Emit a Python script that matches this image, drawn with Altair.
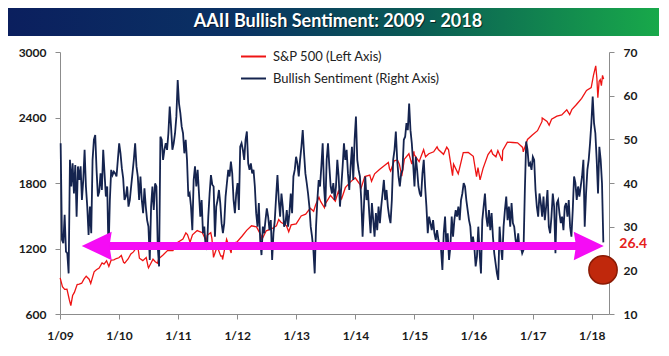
import altair as alt
import pandas as pd

# ---------------- data ----------------
title_text = "AAII Bullish Sentiment: 2009 - 2018"
series_names = ["S&P 500 (Left Axis)", "Bullish Sentiment (Right Axis)"]
series_colors = ["#ee1414", "#15244f"]

left_ticks = [600, 1200, 1800, 2400, 3000]
right_ticks = [10, 20, 30, 40, 50, 60, 70]
tick_years = [2009, 2010, 2011, 2012, 2013, 2014, 2015, 2016, 2017, 2018]

sp_dates = [
    "2009-01-02", "2009-01-16", "2009-01-30", "2009-02-13", "2009-02-27", "2009-03-09", "2009-03-20",
    "2009-03-31", "2009-04-17", "2009-04-30", "2009-05-15", "2009-05-29", "2009-06-12", "2009-06-30",
    "2009-07-10", "2009-07-31", "2009-08-14", "2009-08-31", "2009-09-18", "2009-09-30", "2009-10-16",
    "2009-10-30", "2009-11-13", "2009-11-30", "2009-12-15", "2009-12-31",
    "2010-01-15", "2010-01-29", "2010-02-05", "2010-02-26", "2010-03-15", "2010-03-31", "2010-04-23",
    "2010-04-30", "2010-05-07", "2010-05-28", "2010-06-18", "2010-06-30", "2010-07-02", "2010-07-30",
    "2010-08-13", "2010-08-27", "2010-09-03", "2010-09-30", "2010-10-29", "2010-11-30", "2010-12-31",
    "2011-01-31", "2011-02-18", "2011-02-28", "2011-03-16", "2011-03-31", "2011-04-29", "2011-05-31",
    "2011-06-24", "2011-06-30", "2011-07-22", "2011-07-29", "2011-08-08", "2011-08-31", "2011-09-22",
    "2011-09-30", "2011-10-03", "2011-10-28", "2011-11-25", "2011-11-30", "2011-12-30",
    "2012-01-31", "2012-02-29", "2012-03-30", "2012-04-30", "2012-05-31", "2012-06-01", "2012-06-29",
    "2012-07-31", "2012-08-31", "2012-09-14", "2012-09-28", "2012-10-31", "2012-11-15", "2012-11-30",
    "2012-12-31",
    "2013-01-31", "2013-02-28", "2013-03-28", "2013-04-18", "2013-04-30", "2013-05-21", "2013-05-31",
    "2013-06-24", "2013-06-28", "2013-07-31", "2013-08-30", "2013-09-18", "2013-09-30", "2013-10-08",
    "2013-10-31", "2013-11-29", "2013-12-31",
    "2014-01-31", "2014-02-03", "2014-02-28", "2014-03-31", "2014-04-11", "2014-04-30", "2014-05-30",
    "2014-06-30", "2014-07-24", "2014-07-31", "2014-08-07", "2014-08-29", "2014-09-18", "2014-09-30",
    "2014-10-15", "2014-10-31", "2014-11-28", "2014-12-16", "2014-12-29", "2014-12-31",
    "2015-01-30", "2015-02-27", "2015-03-11", "2015-03-31", "2015-04-30", "2015-05-21", "2015-05-29",
    "2015-06-30", "2015-07-20", "2015-07-31", "2015-08-25", "2015-08-31", "2015-09-29", "2015-10-30",
    "2015-11-30", "2015-12-31",
    "2016-01-20", "2016-01-29", "2016-02-11", "2016-02-29", "2016-03-31", "2016-04-20", "2016-04-29",
    "2016-05-19", "2016-05-31", "2016-06-27", "2016-06-30", "2016-07-29", "2016-08-31", "2016-09-30",
    "2016-10-31", "2016-11-04", "2016-11-30", "2016-12-30",
    "2017-01-31", "2017-02-28", "2017-03-01", "2017-03-31", "2017-04-13", "2017-04-28", "2017-05-31",
    "2017-06-30", "2017-07-31", "2017-08-18", "2017-08-31", "2017-09-29", "2017-10-31", "2017-11-30",
    "2017-12-29",
    "2018-01-12", "2018-01-26", "2018-02-02", "2018-02-08", "2018-02-16", "2018-02-23", "2018-03-02",
    "2018-03-09", "2018-03-16",
]
sp_values = [
    931, 850, 826, 827, 735, 677, 769,
    798, 870, 873, 882, 919, 946, 919,
    879, 987, 1005, 1021, 1068, 1057, 1087,
    1036, 1093, 1096, 1108, 1115,
    1136, 1074, 1066, 1104, 1150, 1169, 1217,
    1187, 1111, 1089, 1117, 1031, 1022, 1102,
    1079, 1065, 1105, 1141, 1183, 1181, 1258,
    1286, 1343, 1327, 1257, 1326, 1364, 1345,
    1268, 1321, 1345, 1292, 1119, 1219, 1130,
    1131, 1099, 1285, 1159, 1247, 1258,
    1312, 1366, 1408, 1398, 1310, 1278, 1362,
    1379, 1407, 1466, 1441, 1412, 1353, 1416,
    1426,
    1498, 1515, 1569, 1541, 1598, 1669, 1631,
    1573, 1606, 1686, 1633, 1725, 1682, 1656,
    1757, 1806, 1848,
    1783, 1742, 1859, 1872, 1815, 1884, 1924,
    1960, 1988, 1931, 1910, 2003, 2011, 1972,
    1862, 2018, 2068, 1973, 2090, 2059,
    1995, 2105, 2040, 2068, 2086, 2131, 2107,
    2063, 2128, 2104, 1867, 1972, 1884, 2079,
    2080, 2044,
    1859, 1940, 1829, 1932, 2060, 2102, 2065,
    2040, 2097, 2001, 2099, 2174, 2171, 2168,
    2126, 2085, 2199, 2239,
    2279, 2364, 2396, 2363, 2329, 2384, 2412,
    2423, 2470, 2426, 2472, 2519, 2575, 2648,
    2674,
    2786, 2873, 2762, 2581, 2732, 2747, 2691,
    2786, 2752,
]

# weekly bullish sentiment (%), evenly spaced in time
bull_start = "2009-01-05"
bull_end = "2018-03-14"
bull_values = [
    49.1, 27, 26.2, 32.7, 24.3, 23.9, 19.3, 45.3, 39.2, 44.5,
    37.6, 44.1, 32.3, 43.8, 40.7, 43.8, 36.1, 40.7, 47.6, 39.2,
    34.6, 28.1, 34.6, 28.5, 45.3, 49.9, 51, 43, 36.9, 38,
    42.2, 38.4, 47.6, 42.2, 36.9, 39.2, 23.9, 36.1, 43, 41.8,
    42.6, 42.2, 41.5, 45.3, 49.1, 46.8, 43.4, 41.1, 36.1, 36.9,
    39.2, 34.6, 36.1, 39.2, 42.2, 45.3, 49.1, 43.8, 41.5, 36.1,
    41.5, 36.1, 33.1, 38.8, 34.6, 31.5, 30, 22.4, 34.6, 39.2,
    33.8, 39.9, 39.2, 25.4, 20.9, 50.6, 49.9, 45.3, 47.6, 49.1,
    47.6, 51.4, 57.5, 52.9, 47.6, 49.1, 51.4, 55.2, 63.6, 58.2,
    56, 52.9, 51.4, 46.8, 49.9, 45.3, 36.9, 37.6, 34.6, 29.2,
    40.7, 43.8, 39.2,
    43, 37.6, 32.3, 36.1, 28.5, 30, 25.4, 24.7, 32.3, 37.6,
    41.8, 39.6, 39.2, 27.7, 34.6, 36.1, 38.4, 35.4, 30.8, 28.5,
    30.8, 36.9, 40, 43, 41.5, 44.9, 42.2, 36.1, 33.1, 37.6,
    40, 33.8, 48.3, 49.1, 47.6, 45.3, 49.9, 51.8, 44.5, 43,
    44.5, 42.2, 43, 39.2, 33.1, 30, 35.4, 27, 23.5, 30,
    28.5, 31.5, 34.2, 32.3, 29.2, 31.5, 22.4, 28.5, 31.5, 36.9,
    41.8, 36.1, 32.3, 37.6, 34.6, 30, 30.8, 33.8, 30, 33.1,
    37.6, 33.1, 41.5, 43, 46, 44.5, 41.5, 45.3, 48.3, 52.1,
    46.8, 42.2, 40, 37.6, 34.6, 30, 27.7, 24.7, 19.3, 30,
    36.1, 40.7, 39.2, 43.8, 49.1, 39.2, 34.6, 45.3, 49.1, 43.8,
    39.2, 37.6, 40, 36.1, 39.2,
    45.3, 41.5, 34.6, 39.2, 43.8, 49.1, 45.3, 47.6, 42.2, 38.4,
    43.8, 48.3, 40.7, 49.9, 55.2, 45.3, 43, 41.5, 36.1, 27.7,
    34.6, 41.5, 36.1, 38.4, 33.1, 28.5, 35.4, 31.5, 27.7, 33.1,
    29.2, 34.6, 30.8, 34.6, 37.6, 40.7, 36.1, 38.4, 34.6, 32.3,
    30.8, 36.1, 45.3, 47.6, 51.8, 45.3, 41.5, 39.2, 42.2, 43,
    49.9, 50.6, 53.7, 52.1, 58.2, 52.1, 49.1, 44.5, 39.2, 46,
    43, 39.2, 37.6, 36.9, 42.2, 45.3, 39.2, 34.6, 28.5, 32.3,
    30.8, 29.2, 31.5, 28.5, 27, 29.2, 27, 25.4, 24.7, 20.1,
    28.5, 32.3, 25.4, 28.5, 22.4, 25.4, 32.3, 27.7, 31.5, 33.8,
    32.3, 34.6, 31.5, 36.1, 37.6, 40, 39.2, 36.1, 33.8, 31.5,
    30, 25.4,
    27.7, 25.4, 20.9, 23.2, 30, 23.9, 19.3, 31.5, 34.6, 37.6,
    32.3, 30, 33.8, 29.2, 33.1, 27.7, 23.9, 21.6, 19.3, 17.8,
    30, 25.4, 22.4, 30, 33.8, 36.9, 31.5, 34.6, 30, 35.4,
    30.8, 30, 27, 25.4, 28.5, 24.7, 25.4, 23.9, 24.7, 38.4,
    49.5, 47.6, 43.8, 44.5, 43, 46, 45.3, 38.4, 34.6, 32.3,
    37.6, 35.4, 32.3, 36.9, 31.5, 34.6, 38.4, 30, 28.5, 32.3,
    37.6, 34.6, 23.9, 35.4, 36.1, 33.1, 30.8, 32.3, 29.2, 34.6,
    35.4, 32.3, 36.1, 30, 27.7, 33.8, 41.5, 40, 36.1, 39.2,
    36.9, 39.2, 41.5, 45.3, 30, 37.6, 43, 45.3, 49.1, 53.7,
    59.8, 53.7, 51.4, 45.3, 37.6, 48.3, 45.3, 39.9, 26.4,
]

# annotations
latest_label = "26.4"
arrow_level = 25.6
arrow_left = "2009-08-16"
arrow_right = "2017-12-14"
circle_date = "2018-03-12"
circle_level = 20.1

x_domain = [alt.DateTime(year=2009, month=1, date=1), alt.DateTime(year=2018, month=4, date=18)]

# ---------------- tables ----------------
sp_df = pd.DataFrame({"date": pd.to_datetime(sp_dates), "sp": sp_values, "series": series_names[0]})
bull_df = pd.DataFrame({
    "date": pd.date_range(bull_start, bull_end, periods=len(bull_values)),
    "v": bull_values,
    "series": series_names[1],
})
last_df = bull_df.tail(1).assign(label=latest_label)
shaft_df = pd.DataFrame({"date": pd.to_datetime([arrow_left]), "date2": pd.to_datetime([arrow_right]), "v": [arrow_level]})
lhead_df = pd.DataFrame({"date": pd.to_datetime([arrow_left]), "v": [arrow_level]})
rhead_df = pd.DataFrame({"date": pd.to_datetime([arrow_right]), "v": [arrow_level]})
circ_df = pd.DataFrame({"date": pd.to_datetime([circle_date]), "v": [circle_level]})
title_df = pd.DataFrame({"t": [title_text]})

AXIS_GRAY = "#8c8c8c"
FONT = "Lato"

x_enc = alt.X(
    "date:T",
    scale=alt.Scale(domain=x_domain),
    axis=alt.Axis(
        values=[alt.DateTime(year=y, month=1, date=1) for y in tick_years],
        format="%-m/%y", title=None, grid=False, labelPadding=11,
        labelFlush=False, labelOverlap=False,
    ),
)
left_y = alt.Y(
    "sp:Q",
    scale=alt.Scale(domain=[left_ticks[0], left_ticks[-1]], nice=False, zero=False),
    axis=alt.Axis(values=left_ticks, format="d", orient="left", title=None, grid=False, labelPadding=9),
)
right_scale = alt.Scale(domain=[right_ticks[0], right_ticks[-1]], nice=False, zero=False)
right_axis = alt.Axis(values=right_ticks, format="d", orient="right", title=None, grid=False, labelPadding=9)
right_y = alt.Y("v:Q", scale=right_scale, axis=right_axis)

color_enc = alt.Color(
    "series:N",
    scale=alt.Scale(domain=series_names, range=series_colors),
    legend=alt.Legend(
        orient="none", legendX=180, legendY=-9, title=None, direction="vertical",
        symbolType="stroke", symbolSize=625, symbolStrokeWidth=2,
        labelFont=FONT, labelFontSize=13, labelColor="#222222", labelOffset=6,
        rowPadding=1, padding=0, labelLimit=300,
    ),
)

sp_line = alt.Chart(sp_df).mark_line(strokeWidth=1.3).encode(x=x_enc, y=left_y, color=color_enc)

bull_line = alt.Chart(bull_df).mark_line(strokeWidth=1.8).encode(x=x_enc, y=right_y, color=color_enc)

MAGENTA = "#f50cf5"
shaft = alt.Chart(shaft_df).mark_rule(strokeWidth=8, color=MAGENTA).encode(x=x_enc, x2="date2:T", y=right_y)
lhead = alt.Chart(lhead_df).mark_point(
    shape="M -1 0 L 1 -0.95 L 0.85 0 L 1 0.95 Z", size=900, filled=True, color=MAGENTA, opacity=1, strokeWidth=0
).encode(x=x_enc, y=right_y)
rhead = alt.Chart(rhead_df).mark_point(
    shape="M 1 0 L -1 -0.95 L -0.85 0 L -1 0.95 Z", size=900, filled=True, color=MAGENTA, opacity=1, strokeWidth=0
).encode(x=x_enc, y=right_y)
circle = alt.Chart(circ_df).mark_point(
    shape="circle", size=800, filled=True, color="#c0280c", stroke="#8a1a04", strokeWidth=1.5, opacity=1
).encode(x=x_enc, y=right_y)
label = alt.Chart(last_df).mark_text(
    align="left", baseline="middle", dx=16, dy=2, font=FONT, fontSize=14, fontWeight="bold", color="#e5201a"
).encode(x=x_enc, y=right_y, text="label:N")

right_layer = alt.layer(bull_line, shaft, lhead, rhead, circle, label)

title_bar = alt.Chart(title_df).mark_rect(
    fill=alt.LinearGradient(
        gradient="linear", x1=0, x2=1, y1=0, y2=0,
        stops=[
            alt.GradientStop(offset=0, color="#0b1f5e"),
            alt.GradientStop(offset=0.35, color="#0a3264"),
            alt.GradientStop(offset=0.62, color="#0a5a55"),
            alt.GradientStop(offset=1, color="#18aa4a"),
        ],
    )
).encode(x=alt.value(-52), x2=alt.value(602), y=alt.value(-44), y2=alt.value(-16))
title_shadow = alt.Chart(title_df).mark_text(
    align="center", baseline="middle", font=FONT, fontSize=18, fontWeight="bold", color="#000000", opacity=0.6,
    dx=1, dy=1,
).encode(x=alt.value(278), y=alt.value(-30), text="t:N")
title_txt = alt.Chart(title_df).mark_text(
    align="center", baseline="middle", font=FONT, fontSize=18, fontWeight="bold", color="#ffffff"
).encode(x=alt.value(278), y=alt.value(-30), text="t:N")

chart = (
    alt.layer(sp_line, right_layer, title_bar, title_shadow, title_txt)
    .resolve_scale(y="independent")
    .properties(
        width=549, height=262,
        autosize=alt.AutoSizeParams(type="none"),
        padding={"left": 52, "top": 44, "right": 50, "bottom": 30},
        background="#ffffff",
    )
    .configure_view(stroke=None)
    .configure_axis(
        domainColor=AXIS_GRAY, tickColor=AXIS_GRAY, domainWidth=1, tickWidth=1, tickSize=5,
        labelFont=FONT, labelFontSize=12, labelFontWeight="bold", labelColor="#1a1a1a",
    )
)

chart.save("out.html", embed_options={"renderer": "svg", "actions": False})
